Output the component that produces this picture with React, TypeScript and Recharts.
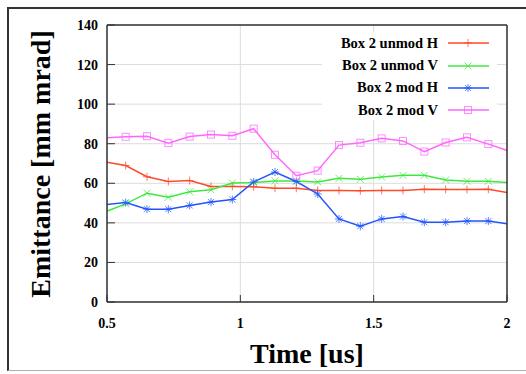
import React from "react";
import { LineChart, Line, XAxis, YAxis, CartesianGrid, Legend } from "recharts";

// sample times (us); first and last sit just outside the plotted range so the lines run to the frame
const times = [0.49, 0.57, 0.65, 0.73, 0.81, 0.89, 0.97, 1.05, 1.13, 1.21, 1.29, 1.37, 1.45, 1.53, 1.61, 1.69, 1.77, 1.85, 1.93, 2.01];
const unmodH = [70.9, 69.0, 63.3, 60.9, 61.4, 58.4, 58.4, 58.2, 57.5, 57.5, 56.4, 56.4, 56.2, 56.4, 56.4, 57.0, 56.9, 56.9, 57.0, 55.1];
const unmodV = [45.4, 49.6, 55.0, 53.0, 55.7, 56.7, 60.1, 60.4, 61.2, 61.2, 60.7, 62.5, 62.0, 63.2, 64.0, 64.0, 61.7, 61.0, 61.0, 60.3];
const modH = [49.2, 50.3, 46.9, 46.9, 48.8, 50.5, 51.8, 60.7, 65.7, 60.9, 54.6, 42.0, 38.3, 42.0, 43.2, 40.3, 40.3, 40.9, 40.9, 39.3];
const modV = [82.9, 83.5, 83.8, 80.3, 83.6, 84.6, 84.0, 87.6, 74.4, 63.8, 66.4, 79.3, 80.5, 82.7, 81.4, 76.0, 80.6, 83.2, 79.8, 76.2];

const xTicks = [0.5, 1, 1.5, 2];
const yTicks = [0, 20, 40, 60, 80, 100, 120, 140];

const FONT = '"Liberation Serif", "Times New Roman", serif';
const AXIS = "#333";

type Kind = "plus" | "cross" | "star" | "square";

const series: { key: string; name: string; color: string; kind: Kind }[] = [
  { key: "unmodH", name: "Box 2 unmod H", color: "#ff4a2a", kind: "plus" },
  { key: "unmodV", name: "Box 2 unmod V", color: "#3fe83f", kind: "cross" },
  { key: "modH", name: "Box 2 mod H", color: "#2255ff", kind: "star" },
  { key: "modV", name: "Box 2 mod V", color: "#ff66ff", kind: "square" },
];

const data = times.map((t, i) => ({
  t,
  unmodH: unmodH[i],
  unmodV: unmodV[i],
  modH: modH[i],
  modV: modV[i],
}));

function MarkerShape({ kind, color, cx, cy }: { kind: Kind; color: string; cx: number; cy: number }) {
  const r = 4;
  const p = { stroke: color, strokeWidth: 1, fill: "none", strokeOpacity: 0.75 };
  if (kind === "plus") return <path d={`M${cx - r},${cy}H${cx + r}M${cx},${cy - r}V${cy + r}`} {...p} />;
  if (kind === "cross")
    return <path d={`M${cx - 3.5},${cy - 3.5}L${cx + 3.5},${cy + 3.5}M${cx - 3.5},${cy + 3.5}L${cx + 3.5},${cy - 3.5}`} {...p} />;
  if (kind === "star")
    return (
      <path
        d={`M${cx - r},${cy}H${cx + r}M${cx},${cy - r}V${cy + r}M${cx - 3},${cy - 3}L${cx + 3},${cy + 3}M${cx - 3},${cy + 3}L${cx + 3},${cy - 3}`}
        {...p}
      />
    );
  return <rect x={cx - 3.5} y={cy - 3.5} width={7} height={7} {...p} />;
}

const makeDot = (kind: Kind, color: string) => (props: any) => {
  const { cx, cy, payload, index } = props;
  if (cx == null || cy == null || payload.t < 0.5 || payload.t > 2) return <g key={`d${index}`} />;
  return (
    <g key={`d${index}`}>
      <MarkerShape kind={kind} color={color} cx={cx} cy={cy} />
    </g>
  );
};

function LegendBox() {
  return (
    <div style={{ background: "#fff", width: 175, height: 88 }}>
      {series.map((s) => (
        <div key={s.key} style={{ display: "flex", alignItems: "center", height: 22.4 }}>
          <span
            style={{
              width: 116,
              textAlign: "right",
              fontFamily: FONT,
              fontWeight: "bold",
              fontSize: 14.5,
              color: "#000",
              whiteSpace: "nowrap",
            }}
          >
            {s.name}
          </span>
          <svg width={45} height={22} style={{ marginLeft: 10, display: "block" }}>
            <line x1={0} x2={41} y1={11} y2={11} stroke={s.color} strokeWidth={1.5} />
            <MarkerShape kind={s.kind} color={s.color} cx={20} cy={11} />
          </svg>
        </div>
      ))}
    </div>
  );
}

const tickStyle = { fill: "#000", fontSize: 14, fontWeight: "bold", fontFamily: FONT };

export default function App() {
  return (
    <div style={{ position: "absolute", left: 0, top: 0, width: 526, height: 374, overflow: "hidden", background: "#fff" }}>
      <LineChart width={526} height={374} data={data} margin={{ top: 0, right: 0, bottom: 0, left: 0 }}>
        <CartesianGrid stroke="#dcdcdc" strokeWidth={1} xAxisId="b" yAxisId="l" />
        <XAxis
          xAxisId="b"
          dataKey="t"
          type="number"
          domain={[0.5, 2]}
          allowDataOverflow
          ticks={xTicks}
          height={72}
          stroke={AXIS}
          axisLine={{ stroke: AXIS, strokeWidth: 1.5 }}
          tickLine={{ stroke: AXIS, strokeWidth: 1 }}
          tickSize={-7}
          tickMargin={23.5}
          tick={tickStyle}
          label={{
            content: () => (
              <text x={307} y={363} textAnchor="middle" fontFamily={FONT} fontWeight="bold" fontSize={28} fill="#000">
                Time [us]
              </text>
            ),
          }}
        />
        <XAxis
          xAxisId="t"
          orientation="top"
          dataKey="t"
          type="number"
          domain={[0.5, 2]}
          allowDataOverflow
          ticks={xTicks}
          height={25}
          axisLine={{ stroke: AXIS, strokeWidth: 1.5 }}
          tickLine={{ stroke: AXIS, strokeWidth: 1 }}
          tickSize={-7}
          tick={false}
        />
        <YAxis
          yAxisId="l"
          type="number"
          domain={[0, 140]}
          allowDataOverflow
          ticks={yTicks}
          width={107}
          axisLine={{ stroke: AXIS, strokeWidth: 1.5 }}
          tickLine={{ stroke: AXIS, strokeWidth: 1 }}
          tickSize={-8}
          tickMargin={17}
          tick={tickStyle}
          label={{
            content: () => (
              <text
                x={49.5}
                y={164}
                transform="rotate(-90 49.5 164)"
                textAnchor="middle"
                fontFamily={FONT}
                fontWeight="bold"
                fontSize={28}
                fill="#000"
              >
                Emittance [mm mrad]
              </text>
            ),
          }}
        />
        <YAxis
          yAxisId="r"
          orientation="right"
          type="number"
          domain={[0, 140]}
          allowDataOverflow
          ticks={yTicks}
          width={19}
          axisLine={{ stroke: AXIS, strokeWidth: 1.5 }}
          tickLine={{ stroke: AXIS, strokeWidth: 1 }}
          tickSize={-8}
          tick={false}
        />
        <Legend
          layout="vertical"
          align="center"
          verticalAlign="middle"
          content={() => <LegendBox />}
          wrapperStyle={{ position: "absolute", left: 322, top: 32, width: 175, height: 88, margin: 0 }}
        />
        {series.map((s) => (
          <Line
            key={s.key}
            xAxisId="b"
            yAxisId="l"
            type="linear"
            dataKey={s.key}
            name={s.name}
            stroke={s.color}
            strokeWidth={1.5}
            dot={makeDot(s.kind, s.color)}
            activeDot={false}
            isAnimationActive={false}
          />
        ))}
      </LineChart>
      <div
        style={{
          position: "absolute",
          left: 7,
          top: 7,
          width: 519,
          height: 364,
          boxSizing: "border-box",
          borderLeft: "2px solid #333",
          borderTop: "2px solid #333",
          borderBottom: "1px solid #b0b0b0",
          pointerEvents: "none",
        }}
      />
    </div>
  );
}
